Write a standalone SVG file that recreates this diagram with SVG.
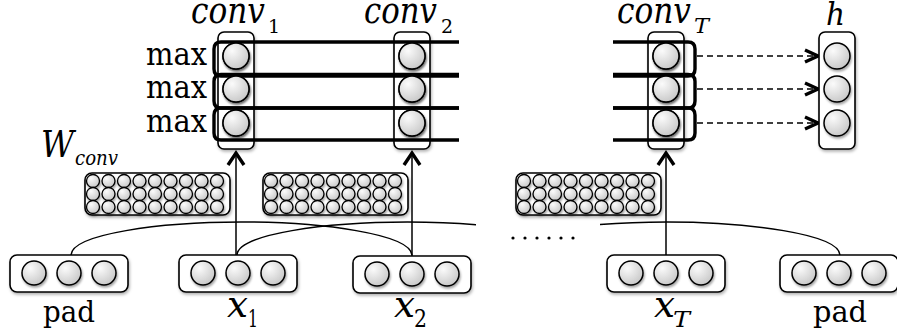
<svg xmlns="http://www.w3.org/2000/svg" width="897" height="335" viewBox="0 0 897 335">
  <style>
    .box { fill: #ffffff; stroke: #000; stroke-width: 1.6; filter: url(#shadow); }
    .unit { fill: url(#ball); stroke: #000; stroke-width: 1.5; }
    .dot { fill: url(#ball); stroke: #000; stroke-width: 1.3; }
    .bracket { fill: none; stroke: #000; stroke-width: 3.4; }
    .wire { fill: none; stroke: #000; stroke-width: 1.5; }
    .head { fill: none; stroke: #000; stroke-width: 3.4; stroke-linecap: butt; }
    .dash { fill: none; stroke: #000; stroke-width: 1.3; stroke-dasharray: 6 4; }
    text { font-family: "DejaVu Serif", serif; fill: #000; }
    .it { font-style: italic; }
  </style>
  <defs>
    <radialGradient id="ball" cx="0.35" cy="0.3" r="0.8">
      <stop offset="0" stop-color="#fbfbfb"/>
      <stop offset="1" stop-color="#c4c4c4"/>
    </radialGradient>
    <filter id="shadow" x="-20%" y="-20%" width="140%" height="150%">
      <feDropShadow dx="1" dy="2" stdDeviation="1.5" flood-color="#000" flood-opacity="0.3"/>
    </filter>
    <filter id="ushadow" x="-30%" y="-30%" width="160%" height="170%">
      <feDropShadow dx="1" dy="2" stdDeviation="1.2" flood-color="#000" flood-opacity="0.35"/>
    </filter>
    <!-- one row of nine weight units -->
    <g id="wrowdots">
      <circle class="dot" cx="8" cy="0" r="6.5"/>
      <circle class="dot" cx="23.5" cy="0" r="6.5"/>
      <circle class="dot" cx="39" cy="0" r="6.5"/>
      <circle class="dot" cx="54.5" cy="0" r="6.5"/>
      <circle class="dot" cx="70" cy="0" r="6.5"/>
      <circle class="dot" cx="85.5" cy="0" r="6.5"/>
      <circle class="dot" cx="101" cy="0" r="6.5"/>
      <circle class="dot" cx="116.5" cy="0" r="6.5"/>
      <circle class="dot" cx="132" cy="0" r="6.5"/>
    </g>
    <!-- 3 x 9 weight matrix -->
    <g id="wgrid">
      <rect class="box" x="0" y="0" width="145" height="42" rx="7"/>
      <g filter="url(#ushadow)">
        <use href="#wrowdots" y="8"/>
        <use href="#wrowdots" y="21"/>
        <use href="#wrowdots" y="34"/>
      </g>
    </g>
    <!-- vertical column of 3 units -->
    <g id="column">
      <rect class="box" x="0" y="0" width="36" height="117" rx="6"/>
      <g filter="url(#ushadow)">
        <circle class="unit" cx="18" cy="24" r="13"/>
        <circle class="unit" cx="18" cy="57" r="13"/>
        <circle class="unit" cx="18" cy="91" r="13"/>
      </g>
    </g>
    <!-- horizontal word vector of 3 units -->
    <g id="vec">
      <rect class="box" x="0" y="0" width="118" height="37" rx="7"/>
      <g filter="url(#ushadow)">
        <circle class="unit" cx="24" cy="18" r="12"/>
        <circle class="unit" cx="59" cy="18" r="12"/>
        <circle class="unit" cx="94" cy="18" r="12"/>
      </g>
    </g>
    <clipPath id="clipB"><rect x="0" y="0" width="476" height="335"/></clipPath>
    <clipPath id="clipC"><rect x="600" y="0" width="297" height="335"/></clipPath>
  </defs>

  <!-- connectors -->
  <g id="connectors">
    <!-- window arcs joining neighbouring inputs -->
    <path class="wire" d="M71,255 C72,234 160,222 241,222 C322,222 410,234 412,255"/>
    <path class="wire" clip-path="url(#clipB)" d="M237,255 C238,234 326,222 407.5,222 C489,222 577,234 578,255"/>
    <path class="wire" clip-path="url(#clipC)" d="M494,255 C495,234 586,222 667,222 C748,222 839,234 840,255"/>
    <!-- upward arrows into convolution outputs -->
    <line class="wire" x1="236" y1="255" x2="236" y2="153"/>
    <path class="head" d="M228,165 L236,153 L244,165"/>
    <line class="wire" x1="412" y1="256" x2="412" y2="153"/>
    <path class="head" d="M404,165 L412,153 L420,165"/>
    <line class="wire" x1="666" y1="255" x2="666" y2="153"/>
    <path class="head" d="M658,165 L666,153 L674,165"/>
    <!-- dashed arrows into h -->
    <line class="dash" x1="697" y1="56" x2="816" y2="56"/>
    <path class="head" d="M805,50 L818,56 L805,62"/>
    <line class="dash" x1="697" y1="89" x2="816" y2="89"/>
    <path class="head" d="M805,83 L818,89 L805,95"/>
    <line class="dash" x1="697" y1="123" x2="816" y2="123"/>
    <path class="head" d="M805,117 L818,123 L805,129"/>
  </g>

  <!-- weight matrices -->
  <g id="wconv1"><use href="#wgrid" x="85" y="173"/></g>
  <g id="wconv2"><use href="#wgrid" x="263" y="173"/></g>
  <g id="wconv3"><use href="#wgrid" x="516" y="173"/></g>

  <!-- input word vectors -->
  <g id="pad-left"><use href="#vec" x="10" y="255"/></g>
  <g id="x1"><use href="#vec" x="179" y="255"/></g>
  <g id="x2"><use href="#vec" x="353" y="256"/></g>
  <g id="xT"><use href="#vec" x="607" y="255"/></g>
  <g id="pad-right"><use href="#vec" x="780" y="255"/></g>

  <!-- convolution output columns and pooled vector -->
  <g id="conv1"><use href="#column" x="218" y="32"/></g>
  <g id="conv2"><use href="#column" x="394" y="32"/></g>
  <g id="convT"><use href="#column" x="648" y="32"/></g>
  <g id="h"><use href="#column" x="819" y="32"/></g>

  <!-- max-pooling brackets across time -->
  <g id="maxpool">
    <path class="bracket" d="M459,42 H221 Q214,42 214,49 V69 Q214,76 221,76 H459"/>
    <path class="bracket" d="M459,74.5 H221 Q214,74.5 214,81.5 V101 Q214,108 221,108 H459"/>
    <path class="bracket" d="M459,108 H221 Q214,108 214,115 V133 Q214,140 221,140 H459"/>
    <path class="bracket" d="M613,42 H688 Q695,42 695,49 V69 Q695,76 688,76 H613"/>
    <path class="bracket" d="M613,74.5 H688 Q695,74.5 695,81.5 V101 Q695,108 688,108 H613"/>
    <path class="bracket" d="M613,108 H688 Q695,108 695,115 V133 Q695,140 688,140 H613"/>
    <g filter="url(#ushadow)">
      <circle class="unit" cx="236" cy="56" r="13"/>
      <circle class="unit" cx="236" cy="89" r="13"/>
      <circle class="unit" cx="236" cy="123" r="13"/>
      <circle class="unit" cx="412" cy="56" r="13"/>
      <circle class="unit" cx="412" cy="89" r="13"/>
      <circle class="unit" cx="412" cy="123" r="13"/>
      <circle class="unit" cx="666" cy="56" r="13"/>
      <circle class="unit" cx="666" cy="89" r="13"/>
      <circle class="unit" cx="666" cy="123" r="13"/>
    </g>
  </g>

  <!-- ellipsis between x2 and xT -->
  <g id="ellipsis">
    <circle cx="513" cy="238" r="1.6"/>
    <circle cx="525" cy="238" r="1.6"/>
    <circle cx="537" cy="238" r="1.6"/>
    <circle cx="549" cy="238" r="1.6"/>
    <circle cx="561" cy="238" r="1.6"/>
    <circle cx="573" cy="238" r="1.6"/>
  </g>

  <!-- labels -->
  <g id="labels">
    <text class="it" x="191" y="23" font-size="37" textLength="74" lengthAdjust="spacingAndGlyphs">conv</text>
    <text x="268" y="33" font-size="19">1</text>
    <text class="it" x="364" y="23" font-size="37" textLength="73" lengthAdjust="spacingAndGlyphs">conv</text>
    <text x="441" y="33" font-size="19">2</text>
    <text class="it" x="617" y="23" font-size="37" textLength="74" lengthAdjust="spacingAndGlyphs">conv</text>
    <text class="it" x="694" y="33" font-size="20" textLength="15" lengthAdjust="spacingAndGlyphs">T</text>
    <text class="it" x="826" y="25" font-size="32" textLength="19" lengthAdjust="spacingAndGlyphs">h</text>
    <text x="146" y="65" font-size="32" textLength="61" lengthAdjust="spacingAndGlyphs">max</text>
    <text x="146" y="98" font-size="32" textLength="61" lengthAdjust="spacingAndGlyphs">max</text>
    <text x="146" y="132" font-size="32" textLength="61" lengthAdjust="spacingAndGlyphs">max</text>
    <text class="it" x="41" y="157" font-size="37" textLength="33" lengthAdjust="spacingAndGlyphs">W</text>
    <text class="it" x="75" y="165" font-size="20" textLength="43" lengthAdjust="spacingAndGlyphs">conv</text>
    <text x="43" y="322" font-size="30" textLength="52" lengthAdjust="spacingAndGlyphs">pad</text>
    <text class="it" x="227" y="317" font-size="37" textLength="21" lengthAdjust="spacingAndGlyphs">x</text>
    <text x="248" y="327" font-size="24" textLength="10" lengthAdjust="spacingAndGlyphs">1</text>
    <text class="it" x="394" y="317" font-size="37" textLength="21" lengthAdjust="spacingAndGlyphs">x</text>
    <text x="414" y="327" font-size="24" textLength="13" lengthAdjust="spacingAndGlyphs">2</text>
    <text class="it" x="654" y="317" font-size="37" textLength="21" lengthAdjust="spacingAndGlyphs">x</text>
    <text class="it" x="673" y="327" font-size="23" textLength="17" lengthAdjust="spacingAndGlyphs">T</text>
    <text x="813" y="322" font-size="30" textLength="54" lengthAdjust="spacingAndGlyphs">pad</text>
  </g>
</svg>
